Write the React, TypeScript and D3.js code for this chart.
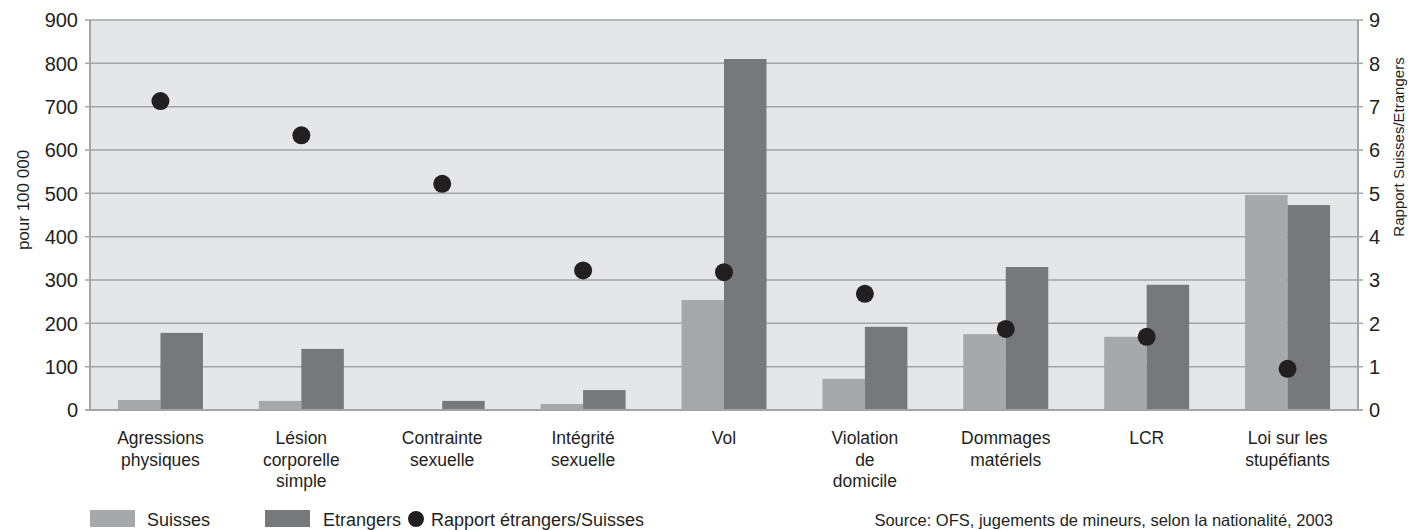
import React from "react";
import * as d3 from "d3";

const categories: string[][] = [
  ["Agressions", "physiques"],
  ["Lésion", "corporelle", "simple"],
  ["Contrainte", "sexuelle"],
  ["Intégrité", "sexuelle"],
  ["Vol"],
  ["Violation", "de", "domicile"],
  ["Dommages", "matériels"],
  ["LCR"],
  ["Loi sur les", "stupéfiants"],
];
const suisses = [23, 21, 2, 14, 254, 72, 175, 169, 496];
const etrangers = [178, 141, 21, 46, 810, 192, 330, 289, 473];
const ratio = [7.13, 6.34, 5.22, 3.22, 3.18, 2.68, 1.87, 1.69, 0.95];
const leftTicks = [0, 100, 200, 300, 400, 500, 600, 700, 800, 900];
const rightTicks = [0, 1, 2, 3, 4, 5, 6, 7, 8, 9];
const seriesNames = ["Suisses", "Etrangers"];
const legendRatioLabel = "Rapport étrangers/Suisses";
const leftTitle = "pour 100 000";
const rightTitle = "Rapport Suisses/Etrangers";
const sourceText = "Source: OFS, jugements de mineurs, selon la nationalité, 2003";

const W = 1413;
const H = 530;
const L = 90;
const R = 1358;
const T = 20;
const B = 410;
const FONT = "'Liberation Sans', Arial, Helvetica, sans-serif";
const C_SUI = "#a7a8ab";
const C_ETR = "#77787a";
const C_DOT = "#231f20";
const C_GRID = "#a3a4a6";
const C_BG = "#e5e6e8";
const C_TEXT = "#231f20";

export default function App() {
  const idx = categories.map((_, i) => String(i));
  const x0 = d3.scaleBand<string>().domain(idx).range([L, R]).padding(0);
  const x1 = d3
    .scaleBand<string>()
    .domain(seriesNames)
    .range([0, x0.bandwidth()])
    .paddingInner(0)
    .paddingOuter(0.658);
  const y = d3.scaleLinear().domain([0, 900]).range([B, T]);
  const y2 = d3.scaleLinear().domain([0, 9]).range([B, T]);
  const cx = (i: number) => (x0(String(i)) as number) + x0.bandwidth() / 2;

  const lineH = 21.5;
  const labelY0 = 444;
  const legY = 526;

  return (
    <svg
      width={W}
      height={H}
      style={{ position: "absolute", left: 0, top: 0, background: "#fff" }}
      fontFamily={FONT}
    >
      <rect x={L} y={T} width={R - L} height={B - T} fill={C_BG} />
      {leftTicks.map((t) => (
        <line key={"g" + t} x1={L} x2={R} y1={y(t)} y2={y(t)} stroke={C_GRID} strokeWidth={1.5} />
      ))}
      {suisses.map((v, i) => (
        <rect
          key={"s" + i}
          x={(x0(String(i)) as number) + (x1("Suisses") as number)}
          y={y(v)}
          width={x1.bandwidth()}
          height={B - y(v)}
          fill={C_SUI}
        />
      ))}
      {etrangers.map((v, i) => (
        <rect
          key={"e" + i}
          x={(x0(String(i)) as number) + (x1("Etrangers") as number)}
          y={y(v)}
          width={x1.bandwidth()}
          height={B - y(v)}
          fill={C_ETR}
        />
      ))}
      {ratio.map((v, i) => (
        <circle key={"d" + i} cx={cx(i)} cy={y2(v)} r={9} fill={C_DOT} />
      ))}
      <line x1={L} x2={L} y1={T} y2={B + 1} stroke={C_GRID} strokeWidth={2} />
      <line x1={R} x2={R} y1={T} y2={B + 1} stroke={C_GRID} strokeWidth={2} />
      <line x1={L - 4} x2={R + 4} y1={B} y2={B} stroke={C_GRID} strokeWidth={2} />
      {leftTicks.map((t) => (
        <g key={"lt" + t}>
          <line x1={L - 5} x2={L} y1={y(t)} y2={y(t)} stroke={C_GRID} strokeWidth={1.5} />
          <text x={78} y={y(t)} dy="0.36em" textAnchor="end" fontSize={20} fill={C_TEXT}>
            {t}
          </text>
        </g>
      ))}
      {rightTicks.map((t) => (
        <g key={"rt" + t}>
          <line x1={R} x2={R + 5} y1={y2(t)} y2={y2(t)} stroke={C_GRID} strokeWidth={1.5} />
          <text x={1369} y={y2(t)} dy="0.36em" textAnchor="start" fontSize={20} fill={C_TEXT}>
            {t}
          </text>
        </g>
      ))}
      {categories.map((lines, i) => (
        <text key={"c" + i} x={cx(i)} y={labelY0} textAnchor="middle" fontSize={17.5} fill={C_TEXT}>
          {lines.map((ln, j) => (
            <tspan key={j} x={cx(i)} y={labelY0 + j * lineH}>
              {ln}
            </tspan>
          ))}
        </text>
      ))}
      <text
        transform={`translate(29,${(T + B) / 2 - 15}) rotate(-90)`}
        textAnchor="middle"
        fontSize={17}
        fill={C_TEXT}
      >
        {leftTitle}
      </text>
      <text
        transform={`translate(1404,147) rotate(-90)`}
        textAnchor="middle"
        fontSize={15}
        fill={C_TEXT}
      >
        {rightTitle}
      </text>
      <rect x={90} y={510} width={45} height={17} fill={C_SUI} />
      <text x={147} y={legY} fontSize={18} fill={C_TEXT}>
        {seriesNames[0]}
      </text>
      <rect x={265} y={510} width={45} height={17} fill={C_ETR} />
      <text x={323} y={legY} fontSize={18} fill={C_TEXT}>
        {seriesNames[1]}
      </text>
      <circle cx={416} cy={519} r={8} fill={C_DOT} />
      <text x={431} y={legY} fontSize={18} fill={C_TEXT}>
        {legendRatioLabel}
      </text>
      <text x={1333} y={legY} textAnchor="end" fontSize={16.5} fill={C_TEXT}>
        {sourceText}
      </text>
    </svg>
  );
}
